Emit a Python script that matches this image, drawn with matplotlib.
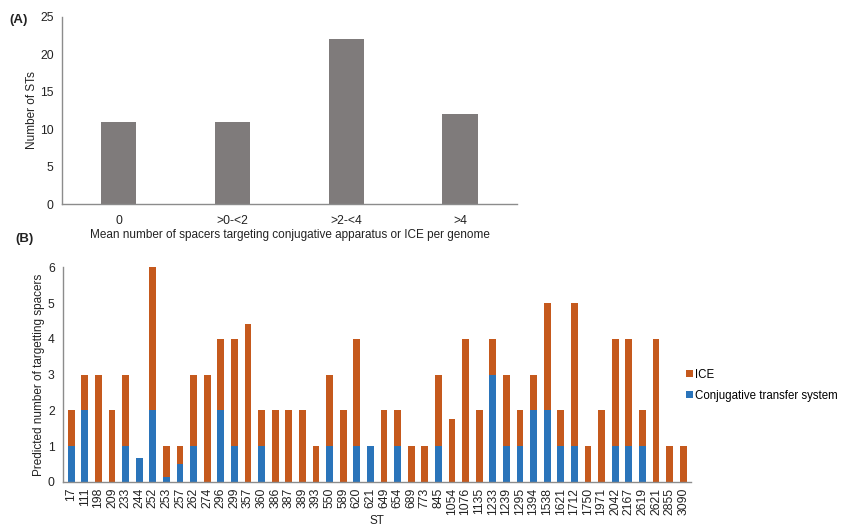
import matplotlib
matplotlib.use("Agg")
import matplotlib.pyplot as plt
import numpy as np

plt.rcParams['font.family'] = ['Liberation Sans', 'DejaVu Sans']

# Panel A: STs binned by mean number of targeting spacers per genome
bins_a = ["0", ">0-<2", ">2-<4", ">4"]
counts_a = [11, 11, 22, 12]

# Panel B: predicted targeting spacers per ST
st_labels = ["17", "111", "198", "209", "233", "244", "252", "253", "257", "262",
             "274", "296", "299", "357", "360", "386", "387", "389", "393", "550",
             "589", "620", "621", "649", "654", "689", "773", "845", "1054", "1076",
             "1135", "1233", "1239", "1295", "1394", "1538", "1621", "1712", "1750", "1971",
             "2042", "2167", "2619", "2621", "2855", "3090"]
conj = [1, 2, 0, 0, 1, 0.67, 2, 0.15, 0.5, 1,
        0, 2, 1, 0, 1, 0, 0, 0, 0, 1,
        0, 1, 1, 0, 1, 0, 0, 1, 0, 0,
        0, 3, 1, 1, 2, 2, 1, 1, 0, 0,
        1, 1, 1, 0, 0, 0]
totals = [2, 3, 3, 2, 3, 0.67, 6, 1, 1, 3,
          3, 4, 4, 4.4, 2, 2, 2, 2, 1, 3,
          2, 4, 1, 2, 2, 1, 1, 3, 1.75, 4,
          2, 4, 3, 2, 3, 5, 2, 5, 1, 2,
          4, 4, 2, 4, 1, 1]
ice = [t - c for t, c in zip(totals, conj)]

gray = "#7f7b7b"
orange = "#c5591d"
blue = "#2a74ba"
axis_col = "#8c8c8c"
txt = "#222222"

fig = plt.figure(figsize=(8.41, 5.26), dpi=100)

def style(ax):
    for s in ("top", "right"):
        ax.spines[s].set_visible(False)
    for s in ("left", "bottom"):
        ax.spines[s].set_color(axis_col)
        ax.spines[s].set_linewidth(1.0)
    ax.tick_params(axis="both", length=0, labelsize=8.7, colors=txt, pad=6)

# ---- Panel A ----
axA = fig.add_axes([0.0737, 0.612, 0.541, 0.356])
xa = np.arange(len(bins_a))
axA.bar(xa, counts_a, width=0.31, color=gray)
axA.set_xlim(-0.5, len(bins_a) - 0.5)
axA.set_ylim(0, 25)
axA.set_yticks(range(0, 26, 5))
axA.set_xticks(xa)
axA.set_xticklabels(bins_a)
style(axA)
axA.tick_params(axis="x", pad=8)
axA.set_ylabel("Number of STs", fontsize=8.5, color=txt, labelpad=1.5)
axA.set_xlabel("Mean number of spacers targeting conjugative apparatus or ICE per genome",
               fontsize=8.5, color=txt, labelpad=1)
fig.text(0.011, 0.962, "(A)", fontsize=9.5, fontweight="bold", color=txt, va="center")

# ---- Panel B ----
axB = fig.add_axes([0.075, 0.0837, 0.747, 0.4083])
xb = np.arange(len(st_labels))
axB.bar(xb, conj, width=0.5, color=blue, label="Conjugative transfer system")
axB.bar(xb, ice, width=0.5, bottom=conj, color=orange, label="ICE")
axB.set_xlim(-0.6, len(st_labels) - 0.4)
axB.set_ylim(0, 6)
axB.set_yticks(range(0, 7))
axB.set_xticks(xb)
axB.set_xticklabels(st_labels, rotation=90)
style(axB)
axB.tick_params(axis="x", pad=4)
axB.set_ylabel("Predicted number of targetting spacers", fontsize=8.5, color=txt, labelpad=2)
axB.set_xlabel("ST", fontsize=8.5, color=txt, labelpad=0)
fig.text(0.018, 0.545, "(B)", fontsize=9.5, fontweight="bold", color=txt, va="center")

handles, labels = axB.get_legend_handles_labels()
axB.legend(handles[::-1], labels[::-1], loc="center left", bbox_to_anchor=(0.992, 0.45),
           frameon=False, fontsize=8.3, handlelength=0.55, handleheight=0.55,
           handletextpad=0.25, labelspacing=0.75, borderaxespad=0.0, borderpad=0.0)

fig.savefig("out.png", dpi=100)
